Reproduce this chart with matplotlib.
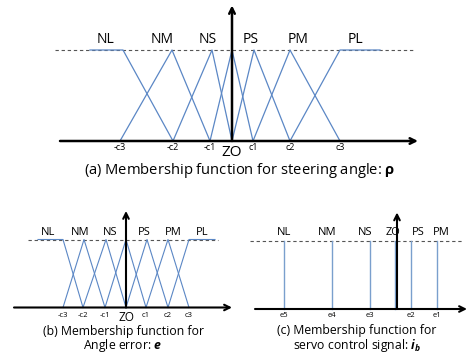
import matplotlib.pyplot as plt

plt.rcParams['font.family'] = ['Open Sans', 'DejaVu Sans']
plt.rcParams['mathtext.fontset'] = 'custom'
plt.rcParams['mathtext.rm'] = 'Open Sans'
plt.rcParams['mathtext.bf'] = 'Open Sans:bold'
plt.rcParams['mathtext.it'] = 'Open Sans:italic'
plt.rcParams['mathtext.bfit'] = 'Open Sans:bold:italic'

W, H = 467, 353

# (a) steering angle
a_sets = ['NL', 'NM', 'NS', 'ZO', 'PS', 'PM', 'PL']
a_mf_x = [[-142, -109, -59], [-112, -60, -22], [-59, -20, 0], [-22, 0, 21],
          [0, 22, 58], [21, 58, 108], [58, 108, 148]]
a_mf_y = [[1, 1, 0], [0, 1, 0], [0, 1, 0], [0, 1, 0], [0, 1, 0], [0, 1, 0], [0, 1, 1]]
a_label_x = [-127, -70, -24, None, 19, 66, 123]
a_ticks = ['-c3', '-c2', '-c1', 'c1', 'c2', 'c3']
a_tick_x = [-112, -59, -22, 21, 58, 108]

# (b) angle error
b_sets = ['NL', 'NM', 'NS', 'ZO', 'PS', 'PM', 'PL']
b_mf_x = [[-88, -63, -43], [-63, -42, -21], [-43, -20, 0], [-21, 0, 20],
          [0, 21, 42], [20, 42, 63], [42, 63, 89]]
b_mf_y = [[1, 1, 0], [0, 1, 0], [0, 1, 0], [0, 1, 0], [0, 1, 0], [0, 1, 0], [0, 1, 1]]
b_label_x = [-78, -46, -16, None, 18, 47, 76]
b_ticks = ['-c3', '-c2', '-c1', 'c1', 'c2', 'c3']
b_tick_x = [-63, -43, -21, 20, 42, 63]

# (c) servo control signal (singletons)
c_sets = ['NL', 'NM', 'NS', 'ZO', 'PS', 'PM']
c_x = [-113, -65, -27, -2, 14, 40]
c_label_x = [-113, -70, -32, -4, 21, 44]
c_ticks = ['e5', 'e4', 'e3', 'e2', 'e1']
c_tick_x = [-113, -65, -27, 14, 40]

blue = '#5b87c5'
blue_c = '#7a9fcd'

fig = plt.figure(figsize=(W / 100, H / 100), dpi=100)


def panel(x0, y0, sy):
    # axes over the whole figure, origin at pixel (x0, y0), 1 px per x unit
    ax = fig.add_axes([0, 0, 1, 1])
    ax.set_xlim(-x0, W - x0)
    ax.set_ylim(-(H - y0) / sy, y0 / sy)
    ax.axis('off')
    ax.patch.set_alpha(0)
    return ax


def axes_arrows(ax, x_from, x_to, y_top, dash_from, dash_to, lw=1.6):
    ax.plot([dash_from, dash_to], [1, 1], color='#555555', lw=0.8,
            linestyle=(0, (3, 2.5)), zorder=1)
    ax.annotate('', xy=(x_to, 0), xytext=(x_from, 0),
                arrowprops=dict(arrowstyle='->', color='black', lw=lw,
                                mutation_scale=10, shrinkA=0, shrinkB=0), zorder=3)
    ax.annotate('', xy=(0, y_top), xytext=(0, 0),
                arrowprops=dict(arrowstyle='->', color='black', lw=lw,
                                mutation_scale=10, shrinkA=0, shrinkB=0), zorder=3)


# panel (a)
ax = panel(232, 141, 91)
axes_arrows(ax, -172, 186, 1.49, -177, 183, lw=1.8)
for xs, ys in zip(a_mf_x, a_mf_y):
    ax.plot(xs, ys, color=blue, lw=0.9, zorder=2)
for name, lx in zip(a_sets, a_label_x):
    if lx is not None:
        ax.text(lx, 1.11, name, ha='center', va='center', fontsize=10)
for t, tx in zip(a_ticks, a_tick_x):
    ax.text(tx, -0.075, t, ha='center', va='center', fontsize=6.5)
ax.text(0, -0.125, 'ZO', ha='center', va='center', fontsize=11)
ax.text(8, -0.32, r'(a) Membership function for steering angle: $\mathbf{\rho}$',
        ha='center', va='center', fontsize=10.6)

# panel (b)
ax = panel(126, 307.5, 68)
axes_arrows(ax, -112, 106, 1.42, -98, 92, lw=1.5)
for xs, ys in zip(b_mf_x, b_mf_y):
    ax.plot(xs, ys, color=blue, lw=0.8, zorder=2)
for name, lx in zip(b_sets, b_label_x):
    if lx is not None:
        ax.text(lx, 1.1, name, ha='center', va='center', fontsize=8)
for t, tx in zip(b_ticks, b_tick_x):
    ax.text(tx, -0.12, t, ha='center', va='center', fontsize=5.5)
ax.text(0, -0.14, 'ZO', ha='center', va='center', fontsize=8.5)
ax.text(-3, -0.35, '(b) Membership function for', ha='center', va='center', fontsize=8.8)
ax.text(-3, -0.565, r'Angle error: $\mathbfit{e}$', ha='center', va='center', fontsize=8.8)

# panel (c)
ax = panel(397, 309, 68)
axes_arrows(ax, -142, 70, 1.42, -147, 65, lw=1.5)
for sx in c_x:
    ax.plot([sx, sx], [0, 1], color=blue_c, lw=1.0, zorder=2)
for name, lx in zip(c_sets, c_label_x):
    ax.text(lx, 1.12, name, ha='center', va='center', fontsize=8)
for t, tx in zip(c_ticks, c_tick_x):
    ax.text(tx, -0.1, t, ha='center', va='center', fontsize=5.5)
ax.text(-40, -0.32, '(c) Membership function for', ha='center', va='center', fontsize=8.8)
ax.text(-40, -0.535, r'servo control signal: $\mathbfit{i}_{\mathbfit{b}}$',
        ha='center', va='center', fontsize=8.8)

fig.savefig('out.png', dpi=100)
